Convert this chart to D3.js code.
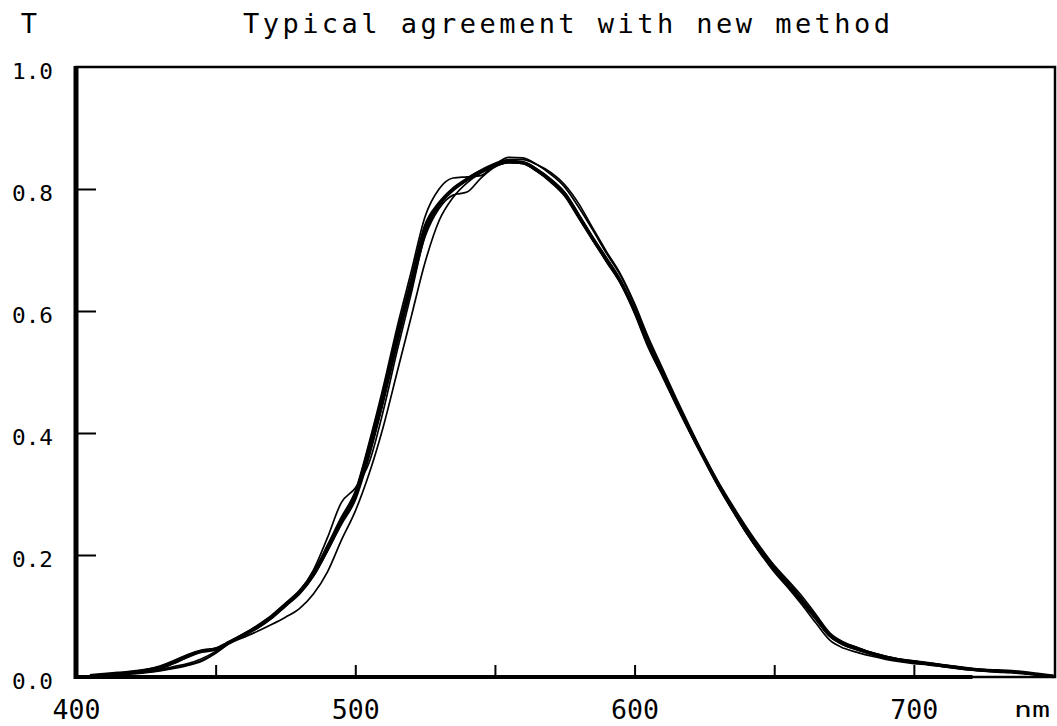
<!DOCTYPE html>
<html>
<head>
<meta charset="utf-8">
<script src="https://cdn.jsdelivr.net/npm/d3@7"></script>
<style>
  html, body { margin: 0; padding: 0; background: #fff; }
  svg { display: block; }
  text { font-family: "DejaVu Sans Mono", "Liberation Mono", monospace; fill: #000; }
</style>
</head>
<body>
<svg id="chart" width="1057" height="726"></svg>
<script>
// Wavelength grid (nm) shared by every measured transmission curve
const wavelengths = [405,410,415,420,425,430,435,440,445,450,455,460,465,470,475,480,485,490,495,500,
  505,510,515,520,525,530,535,540,545,550,555,560,565,570,575,580,585,590,595,600,
  605,610,615,620,625,630,635,640,645,650,655,660,665,670,675,680,685,690,695,700,
  705,710,715,720,725,730,735,740,745,750];

// Transmission computed with the new method (heavy line)
const newMethod = [0.002,0.004,0.006,0.008,0.011,0.015,0.024,0.034,0.042,0.046,0.057,0.069,0.082,0.098,0.118,0.138,0.168,0.210,0.256,0.298,
  0.376,0.464,0.560,0.648,0.738,0.776,0.800,0.816,0.829,0.839,0.845,0.843,0.831,0.814,0.792,0.756,0.719,0.684,0.648,0.600,
  0.543,0.496,0.448,0.402,0.358,0.315,0.276,0.239,0.206,0.176,0.150,0.124,0.096,0.068,0.054,0.046,0.038,0.032,0.028,0.025,
  0.022,0.019,0.016,0.013,0.011,0.010,0.009,0.007,0.004,0.001];

// Individual measured curves (thin lines)
const run1 = [0.002,0.003,0.005,0.008,0.012,0.018,0.027,0.037,0.044,0.047,0.058,0.071,0.085,0.101,0.121,0.142,0.172,0.216,0.262,0.305,
  0.385,0.475,0.574,0.664,0.755,0.800,0.818,0.820,0.822,0.840,0.852,0.851,0.840,0.824,0.803,0.770,0.733,0.694,0.658,0.610,
  0.552,0.502,0.452,0.405,0.360,0.317,0.279,0.243,0.211,0.181,0.155,0.128,0.099,0.070,0.056,0.047,0.040,0.034,0.029,0.026,
  0.023,0.020,0.017,0.014,0.012,0.010,0.008,0.006,0.004,0.002];
const run2 = [0.001,0.003,0.005,0.007,0.010,0.014,0.022,0.033,0.043,0.046,0.056,0.068,0.080,0.096,0.116,0.136,0.165,0.206,0.252,0.293,
  0.366,0.452,0.548,0.636,0.722,0.768,0.790,0.795,0.818,0.836,0.843,0.842,0.829,0.811,0.788,0.752,0.716,0.680,0.645,0.598,
  0.541,0.494,0.447,0.400,0.356,0.313,0.274,0.237,0.204,0.174,0.148,0.122,0.094,0.066,0.052,0.044,0.037,0.031,0.027,0.024,
  0.021,0.018,0.015,0.012,0.010,0.009,0.008,0.006,0.003,0.001];
const run3 = [0.001,0.002,0.004,0.006,0.008,0.011,0.015,0.020,0.027,0.040,0.056,0.068,0.081,0.097,0.117,0.140,0.175,0.228,0.286,0.310,
  0.352,0.436,0.535,0.628,0.725,0.772,0.797,0.814,0.828,0.838,0.844,0.844,0.833,0.816,0.794,0.758,0.721,0.686,0.650,0.602,
  0.545,0.498,0.449,0.403,0.359,0.316,0.277,0.240,0.207,0.177,0.152,0.126,0.097,0.067,0.053,0.045,0.038,0.032,0.028,0.025,
  0.022,0.019,0.016,0.013,0.011,0.009,0.008,0.006,0.004,0.002];
const run4 = [0.001,0.002,0.003,0.005,0.007,0.010,0.014,0.019,0.026,0.039,0.055,0.065,0.075,0.086,0.098,0.112,0.136,0.172,0.224,0.272,
  0.334,0.410,0.500,0.590,0.680,0.748,0.786,0.810,0.826,0.837,0.843,0.842,0.830,0.813,0.790,0.754,0.717,0.682,0.646,0.598,
  0.542,0.495,0.446,0.400,0.356,0.313,0.274,0.237,0.203,0.172,0.146,0.118,0.088,0.060,0.047,0.040,0.034,0.029,0.025,0.022,
  0.020,0.017,0.014,0.012,0.010,0.008,0.007,0.005,0.003,0.001];
const run5 = [0.002,0.003,0.005,0.007,0.009,0.012,0.017,0.022,0.030,0.042,0.058,0.070,0.083,0.099,0.119,0.139,0.167,0.207,0.250,0.290,
  0.362,0.450,0.545,0.640,0.730,0.773,0.798,0.817,0.831,0.842,0.848,0.848,0.840,0.827,0.807,0.776,0.736,0.697,0.660,0.612,
  0.556,0.506,0.456,0.408,0.362,0.320,0.282,0.246,0.213,0.183,0.158,0.132,0.102,0.072,0.057,0.048,0.040,0.034,0.029,0.026,
  0.023,0.020,0.017,0.014,0.012,0.010,0.008,0.006,0.004,0.002];

// Axis ticks and labels
const xTickValues = [450, 500, 550, 600, 650, 700];
const xLabelValues = [400, 500, 600, 700];
const yTickValues = [0.2, 0.4, 0.6, 0.8];
const yLabelValues = [0.0, 0.2, 0.4, 0.6, 0.8, 1.0];
const titleText = "Typical agreement with new method";
const yAxisName = "T";
const xAxisName = "nm";

const svg = d3.select("#chart");
const monoFont = "'DejaVu Sans Mono', 'Liberation Mono', monospace";

const x = d3.scaleLinear().domain([400, 750]).range([76, 1053.5]);
const y = d3.scaleLinear().domain([0, 1]).range([677, 67]);

// Frame
svg.append("rect")
  .attr("x", x(400)).attr("y", y(1))
  .attr("width", 1055 - x(400)).attr("height", y(0) - y(1))
  .attr("fill", "none").attr("stroke", "#000").attr("stroke-width", 2.5);

// Curves
const line = d3.line()
  .x((d, i) => x(wavelengths[i]))
  .y(d => y(d))
  .curve(d3.curveMonotoneX);

const thin = [run1, run2, run3, run4, run5];
svg.append("g").selectAll("path").data(thin).join("path")
  .attr("d", line)
  .attr("fill", "none").attr("stroke", "#000").attr("stroke-width", 1.7)
  .attr("stroke-linejoin", "round");

svg.append("path").datum(newMethod)
  .attr("d", line)
  .attr("fill", "none").attr("stroke", "#000").attr("stroke-width", 3.6)
  .attr("stroke-linejoin", "round");

// Heavy axis lines
svg.append("line")
  .attr("x1", x(400)).attr("x2", x(400))
  .attr("y1", y(1) - 1).attr("y2", y(0) + 2)
  .attr("stroke", "#000").attr("stroke-width", 5);
svg.append("line")
  .attr("x1", x(400)).attr("x2", x(721))
  .attr("y1", y(0)).attr("y2", y(0))
  .attr("stroke", "#000").attr("stroke-width", 4);

// Inward tick marks
const xTicks = svg.append("g").attr("transform", `translate(0,${y(0)})`)
  .call(d3.axisTop(x).tickValues(xTickValues).tickSize(12).tickFormat(""));
xTicks.select(".domain").remove();
xTicks.selectAll("line").attr("stroke-width", 2);

const yTicks = svg.append("g").attr("transform", `translate(${x(400) + 2},0)`)
  .call(d3.axisRight(y).tickValues(yTickValues).tickSize(18).tickFormat(""));
yTicks.select(".domain").remove();
yTicks.selectAll("line").attr("stroke-width", 2);

// Tick labels
const xLabels = svg.append("g").attr("transform", `translate(0,${y(0)})`)
  .call(d3.axisBottom(x).tickValues(xLabelValues).tickSize(0).tickFormat(d3.format("d")));
xLabels.select(".domain").remove();
xLabels.selectAll("text")
  .attr("y", 42).attr("dy", 0)
  .attr("font-size", 26)
  .style("font-family", monoFont)
  .style("font-weight", "normal")
  .attr("textLength", 48).attr("lengthAdjust", "spacingAndGlyphs");

const yLabels = svg.append("g").attr("transform", `translate(${x(400)},0)`)
  .call(d3.axisLeft(y).tickValues(yLabelValues).tickSize(0).tickFormat(d3.format(".1f")));
yLabels.select(".domain").remove();
yLabels.selectAll("text")
  .attr("x", -23).attr("dy", 0).attr("y", 11)
  .attr("font-size", 21)
  .style("font-family", monoFont)
  .attr("textLength", 41).attr("lengthAdjust", "spacingAndGlyphs");

// Titles
svg.append("text")
  .attr("x", 243).attr("y", 33)
  .attr("font-size", 27)
  .attr("textLength", 647).attr("lengthAdjust", "spacing")
  .text(titleText);

svg.append("text")
  .attr("x", 29).attr("y", 33)
  .attr("text-anchor", "middle")
  .attr("font-size", 27)
  .text(yAxisName);

svg.append("text")
  .attr("x", 1014).attr("y", 717)
  .attr("font-size", 22)
  .attr("textLength", 36).attr("lengthAdjust", "spacingAndGlyphs")
  .text(xAxisName);
</script>
</body>
</html>
